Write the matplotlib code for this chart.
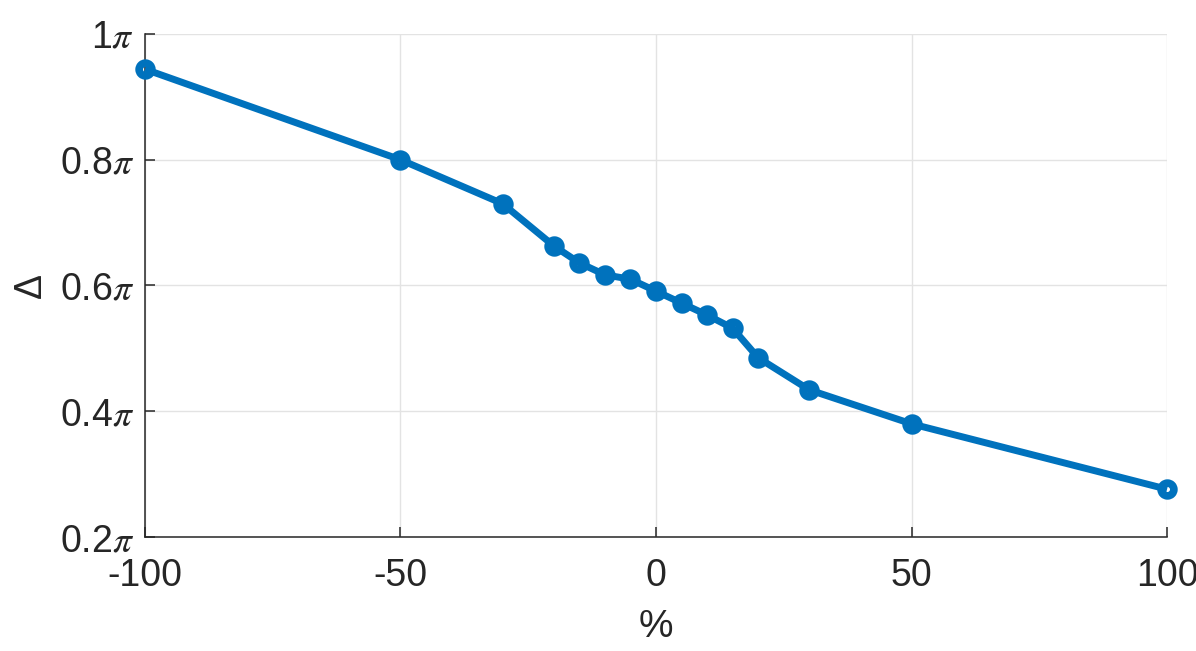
import matplotlib
matplotlib.use('Agg')
import matplotlib.pyplot as plt
import numpy as np

# ── Data ───────────────────────────────────────────────────────────────────────
pct = [-100, -50, -30, -20, -15, -10, -5, 0, 5, 10, 15, 20, 30, 50, 100]
delta = [0.944, 0.800, 0.730, 0.663, 0.636, 0.617, 0.610, 0.591,
         0.572, 0.553, 0.532, 0.485, 0.434, 0.380, 0.276]   # in units of pi

x_ticks = [-100, -50, 0, 50, 100]
y_ticks = [0.2, 0.4, 0.6, 0.8, 1.0]
y_labels = [r'0.2$\pi$', r'0.4$\pi$', r'0.6$\pi$', r'0.8$\pi$', r'1$\pi$']

LINE_COLOR = '#0072BD'
TEXT_COLOR = '#262626'

plt.rcParams['font.family'] = ['Liberation Sans', 'DejaVu Sans']
plt.rcParams['mathtext.fontset'] = 'stix'

fig = plt.figure(figsize=(11.96, 6.51), dpi=100)
ax = fig.add_axes([0.1212, 0.1751, 0.9758 - 0.1212, 0.9478 - 0.1751])

ax.plot(pct, delta, color=LINE_COLOR, linewidth=5.0, marker='o',
        markersize=9.2, markeredgewidth=5.5, markerfacecolor='none',
        markeredgecolor=LINE_COLOR, solid_capstyle='butt',
        solid_joinstyle='round', clip_on=False, zorder=3)

ax.set_xlim(-100, 100)
ax.set_ylim(0.2, 1.0)
ax.set_xticks(x_ticks)
ax.set_xticklabels([str(t) for t in x_ticks])
ax.set_yticks(y_ticks)
ax.set_yticklabels(y_labels)

ax.grid(True, color='#e3e3e3', linewidth=1)
ax.set_axisbelow(True)
for side in ('top', 'right'):
    ax.spines[side].set_visible(False)
for side in ('left', 'bottom'):
    ax.spines[side].set_color(TEXT_COLOR)
    ax.spines[side].set_linewidth(1.1)

ax.tick_params(direction='in', length=7, width=1.1, colors=TEXT_COLOR,
               labelsize=27)
ax.tick_params(axis='x', pad=15)
ax.tick_params(axis='y', pad=8)

ax.set_xlabel('%', fontsize=28, color=TEXT_COLOR, labelpad=11)
ax.set_ylabel('Δ', fontsize=27, color=TEXT_COLOR, labelpad=8)

plt.savefig('out.png', dpi=100)
plt.close(fig)
